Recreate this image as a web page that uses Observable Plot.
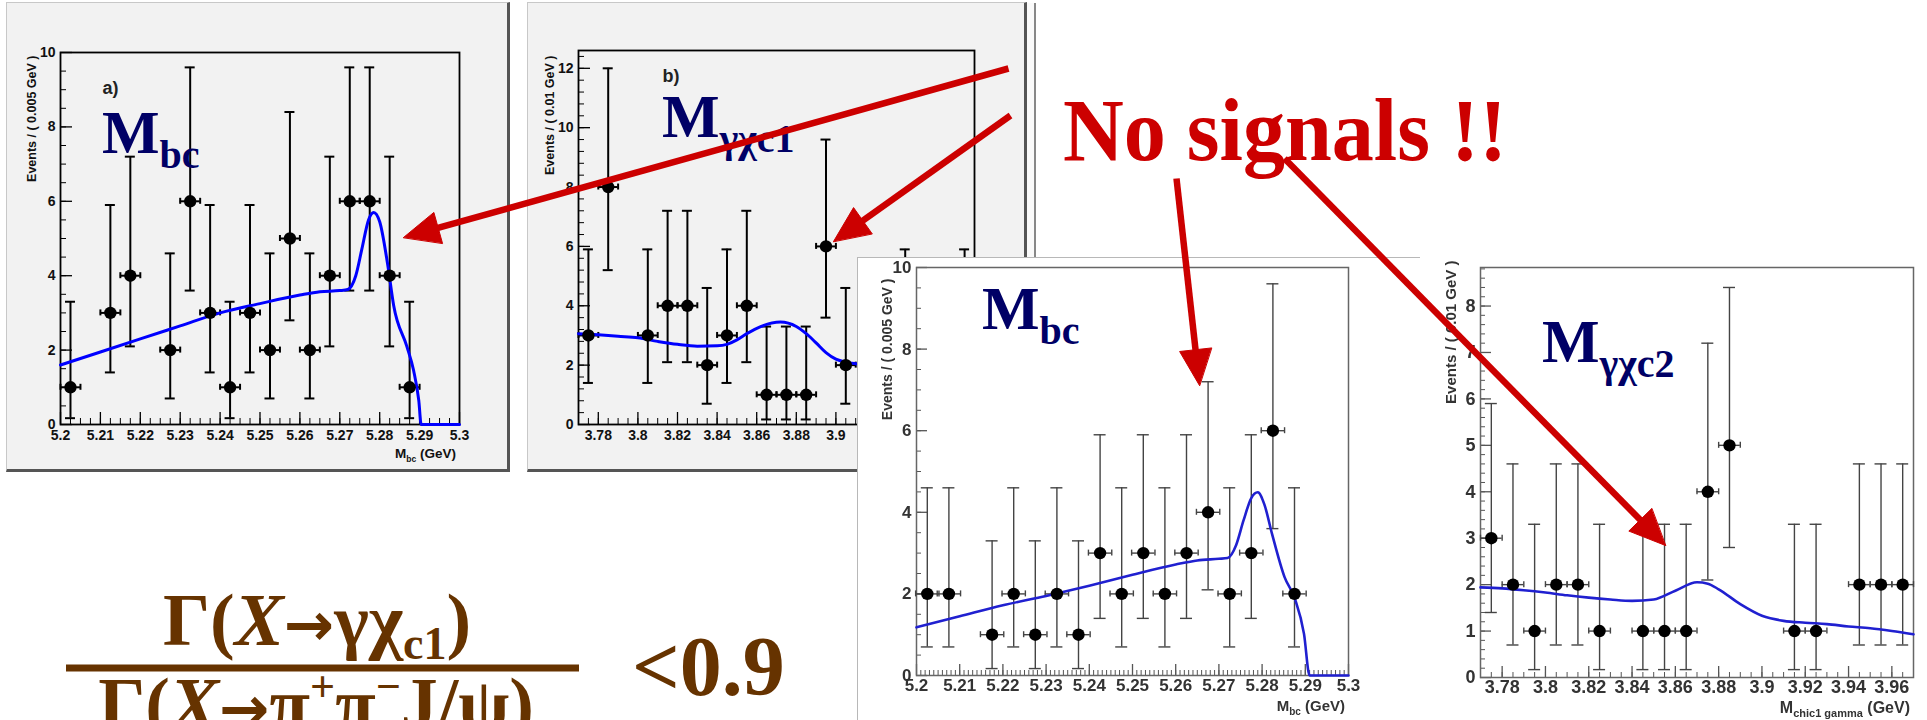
<!DOCTYPE html>
<html><head><meta charset="utf-8">
<script src="https://cdn.jsdelivr.net/npm/d3@7"></script>
<script src="https://cdn.jsdelivr.net/npm/@observablehq/plot@0.6"></script>
<style>
body{margin:0;background:#fff;}
#root{position:relative;width:1927px;height:720px;overflow:hidden;background:#fff;}
.panel{position:absolute;}
.panel svg{display:block;}
</style></head><body><div id="root"></div>
<script>
// ---------- data ----------
// panel a) : Mbc, 0.005 GeV bins
const aX = [5.2025,5.2125,5.2175,5.2275,5.2325,5.2375,5.2425,5.2475,5.2525,5.2575,5.2625,5.2675,5.2725,5.2775,5.2825,5.2875];
const aN = [1,3,4,2,6,3,1,3,2,5,2,4,6,6,4,1];
const aFitX = [5.2,5.21,5.22,5.23,5.24,5.25,5.26,5.265,5.27,5.272,5.274,5.2755,5.2772,5.2785,5.28,5.282,5.2835,5.2868,5.2885,5.2898,5.2904,5.3];
const aFitY = [1.6,1.95,2.3,2.65,3.0,3.25,3.48,3.57,3.6,3.63,4.0,4.7,5.5,5.7,5.45,4.3,3.2,2.1,1.45,0.64,0,0];
// panel b) : M(gamma chi_c1), 0.01 GeV bins
const bX = [3.775,3.785,3.805,3.815,3.825,3.835,3.845,3.855,3.865,3.875,3.885,3.895,3.905,3.935,3.965];
const bN = [3,8,3,4,4,2,3,4,1,1,1,6,2,3,3];
const bFitX = [3.77,3.78,3.79,3.8,3.81,3.82,3.83,3.84,3.845,3.85,3.855,3.862,3.872,3.88,3.885,3.89,3.895,3.9,3.905,3.91,3.93,3.95,3.97];
const bFitY = [3.06,3.02,2.97,2.92,2.8,2.7,2.64,2.65,2.7,2.85,3.06,3.3,3.45,3.3,3.06,2.75,2.42,2.2,2.1,2.05,1.97,1.92,1.88];
// panel c) : Mbc
const cX = [5.2025,5.2075,5.2175,5.2225,5.2275,5.2325,5.2375,5.2425,5.2475,5.2525,5.2575,5.2625,5.2675,5.2725,5.2775,5.2825,5.2875];
const cN = [2,2,1,2,1,2,1,3,2,3,2,3,4,2,3,6,2];
const cFitX = [5.2,5.21,5.22,5.23,5.24,5.25,5.26,5.265,5.27,5.272,5.274,5.2757,5.2775,5.279,5.2805,5.2823,5.2852,5.2876,5.2897,5.291,5.3];
const cFitY = [1.18,1.45,1.72,1.95,2.2,2.47,2.72,2.82,2.86,2.88,3.2,3.8,4.35,4.49,4.2,3.47,2.41,1.88,1.02,0,0];
// panel d) : M(gamma chi_c2)
const dX = [3.775,3.785,3.795,3.805,3.815,3.825,3.845,3.855,3.865,3.875,3.885,3.915,3.925,3.945,3.955,3.965];
const dN = [3,2,1,2,2,1,1,1,1,4,5,1,1,2,2,2];
const dFitX = [3.77,3.78,3.79,3.8,3.81,3.82,3.83,3.84,3.85,3.86,3.87,3.875,3.88,3.89,3.9,3.91,3.92,3.93,3.94,3.95,3.96,3.97];
const dFitY = [1.94,1.92,1.88,1.83,1.77,1.72,1.68,1.65,1.68,1.87,2.05,2.02,1.9,1.58,1.33,1.22,1.18,1.15,1.1,1.06,1.0,0.93];
// Poisson error bars as drawn
const errN  = [1,2,3,4,5,6,8];
const errLo = [0.17,0.7,1.4,2.1,2.8,3.6,5.2];
const errHi = [3.3,4.6,5.9,7.2,8.4,9.6,12.0];
// tick labels
const mbcTicks = [5.2,5.21,5.22,5.23,5.24,5.25,5.26,5.27,5.28,5.29,5.3];
const mTicks = [3.78,3.8,3.82,3.84,3.86,3.88,3.9,3.92,3.94,3.96];
const aYTicks = [0,2,4,6,8,10];
const bYTicks = [0,2,4,6,8,10,12];
const dYTicks = [0,1,2,3,4,5,6,7,8];
// arrows (annotation endpoints, page pixels)
const arrowX1 = [1008,1010,1176,1284];
const arrowY1 = [68,115,178,158];
const arrowX2 = [403,833,1199,1665];
const arrowY2 = [237,241,385,545];

// ---------- helpers ----------
const root = document.getElementById("root");
const SANS = "'Liberation Sans', Arial, Helvetica, sans-serif";
const SERIF = "'Liberation Serif', 'Times New Roman', serif";
function rng(a,b,s){const out=[];for(let i=0;a+i*s<=b+s*1e-6;i++)out.push(+(a+i*s).toFixed(5));return out;}
const lo = n => errLo[errN.indexOf(n)];
const hi = n => errHi[errN.indexOf(n)];
const fmt = d => String(+d.toFixed(4));

function histPanel(o){
  const t = o.theme;
  const fw = o.width - o.ml - o.mr, fh = o.height - o.mt - o.mb;
  const pxX = fw/(o.xDomain[1]-o.xDomain[0]), pxY = fh/(o.yDomain[1]-o.yDomain[0]);
  const capX = t.cap/pxX, capY = 3/pxY;
  const pts = o.xs.map((x,i)=>({x, n:o.ns[i], lo:lo(o.ns[i]), hi:hi(o.ns[i])}));
  const fit = o.fitX.map((x,i)=>({x, y:o.fitY[i]}));
  const svg = Plot.plot({
    width:o.width, height:o.height, marginLeft:o.ml, marginRight:o.mr, marginTop:o.mt, marginBottom:o.mb,
    style:{background:t.bg, fontFamily:SANS, overflow:"visible"},
    x:{domain:o.xDomain}, y:{domain:o.yDomain},
    marks:[
      Plot.axisX(o.xMinor,{tickSize:-t.minor, tickFormat:()=>"", label:null, stroke:t.tick, strokeWidth:1}),
      Plot.axisX(o.xTicks,{tickSize:-t.major, tickFormat:()=>"", label:null, stroke:t.tick, strokeWidth:1.3}),
      Plot.axisX(o.xTicks,{tickSize:0, tickPadding:t.pad, tickFormat:fmt, label:null, fontSize:t.fs, fontWeight:"bold", fill:t.text}),
      Plot.axisY(o.yMinor,{tickSize:-t.minor, tickFormat:()=>"", label:null, stroke:t.tick, strokeWidth:1}),
      Plot.axisY(o.yTicks,{tickSize:-t.major, tickFormat:()=>"", label:null, stroke:t.tick, strokeWidth:1.3}),
      Plot.axisY(o.yTicks,{tickSize:0, tickPadding:5, tickFormat:fmt, label:null, fontSize:t.fs, fontWeight:"bold", fill:t.text}),
      Plot.frame({stroke:t.frame, strokeWidth:t.frameW}),
      // vertical error bars + caps
      Plot.ruleX(pts,{x:"x", y1:"lo", y2:"hi", stroke:t.err, strokeWidth:t.errW}),
      Plot.ruleY(pts,{y:"hi", x1:d=>d.x-capX, x2:d=>d.x+capX, stroke:t.err, strokeWidth:t.errW}),
      Plot.ruleY(pts,{y:"lo", x1:d=>d.x-capX, x2:d=>d.x+capX, stroke:t.err, strokeWidth:t.errW}),
      // horizontal (bin width) bars + end ticks
      Plot.ruleY(pts,{y:"n", x1:d=>d.x-o.binHalf, x2:d=>d.x+o.binHalf, stroke:t.err, strokeWidth:t.errW}),
      Plot.ruleX(pts,{x:d=>d.x-o.binHalf, y1:d=>d.n-capY, y2:d=>d.n+capY, stroke:t.err, strokeWidth:t.errW}),
      Plot.ruleX(pts,{x:d=>d.x+o.binHalf, y1:d=>d.n-capY, y2:d=>d.n+capY, stroke:t.err, strokeWidth:t.errW}),
      Plot.line(fit,{x:"x", y:"y", stroke:t.fit, strokeWidth:t.fitW, curve:"monotone-x"}),
      Plot.dot(pts,{x:"x", y:"n", r:6.2, fill:"#000", stroke:"none"}),
      Plot.text([o.ylabel],{frameAnchor:"top-left", dx:o.ylDx, dy:o.ylDy, rotate:-90, textAnchor:"end", fontSize:t.yfs, fontWeight:"bold", fill:t.text}),
      ...(o.tag ? [Plot.text([o.tag],{frameAnchor:"top-left", dx:o.tagDx, dy:o.tagDy, lineAnchor:"bottom", textAnchor:"start", fontSize:18, fontWeight:"bold", fill:"#222"})] : [])
    ]
  });
  // x-axis title with subscript
  const xl = d3.select(svg).append("text")
    .attr("x", o.width - o.mr - 3).attr("y", o.height - o.mb + o.xlDy)
    .attr("text-anchor","end").attr("font-size", t.yfs+1).attr("font-weight","bold")
    .attr("fill", t.text).attr("font-family", SANS);
  xl.append("tspan").text("M");
  xl.append("tspan").attr("font-size", t.yfs-4).attr("dy",4).text(o.xsub);
  xl.append("tspan").attr("dy",-4).text(" (GeV)");
  return svg;
}

function place(node, css){
  const div = document.createElement("div");
  div.className = "panel";
  Object.assign(div.style, css);
  div.appendChild(node);
  root.appendChild(div);
}

const rootTheme = {bg:"#f2f2f2", tick:"#000", text:"#111", frame:"#000", frameW:1.8, err:"#000", errW:2, fit:"#0000ff", fitW:3, major:12, minor:6, fs:14, yfs:12.5, pad:6, cap:5};
const scanTheme = {bg:"#ffffff", tick:"#555", text:"#333", frame:"#666", frameW:1.5, err:"#444", errW:1.4, fit:"#2020d0", fitW:2.6, major:11, minor:5, fs:17, yfs:14, pad:3, cap:6};

// panel a
place(histPanel({xs:aX, ns:aN, fitX:aFitX, fitY:aFitY, xDomain:[5.2,5.3], yDomain:[0,10],
  width:500, height:466, ml:53, mr:48, mt:49, mb:45, binHalf:0.0025,
  xTicks:mbcTicks, xMinor:rng(5.2,5.3,0.0025), yTicks:aYTicks, yMinor:rng(0,10,0.5),
  ylabel:"Events / ( 0.005 GeV )", ylDx:-33, ylDy:3, xsub:"bc", xlDy:34,
  tag:"a)", tagDx:42, tagDy:41, theme:rootTheme}),
  {left:"6px", top:"2px", borderTop:"1px solid #c8c8c8", borderLeft:"1px solid #c8c8c8", borderRight:"3px solid #555", borderBottom:"3px solid #555", background:"#f2f2f2"});

// panel b
place(histPanel({xs:bX, ns:bN, fitX:bFitX, fitY:bFitY, xDomain:[3.77,3.97], yDomain:[0,12.6],
  width:496, height:466, ml:50, mr:50, mt:47, mb:45, binHalf:0.005,
  xTicks:mTicks, xMinor:rng(3.77,3.97,0.005), yTicks:bYTicks, yMinor:rng(0,12.4,0.4),
  ylabel:"Events / ( 0.01 GeV )", ylDx:-33, ylDy:5, xsub:"chic1 gamma", xlDy:34,
  tag:"b)", tagDx:84, tagDy:31, theme:rootTheme}),
  {left:"527px", top:"2px", borderTop:"1px solid #c8c8c8", borderLeft:"1px solid #c8c8c8", borderRight:"3px solid #555", borderBottom:"3px solid #555", background:"#f2f2f2", boxShadow:"8px 0 0 -1px #fafafa, 10px 0 0 -1px #888"});

// panel c
place(histPanel({xs:cX, ns:cN, fitX:cFitX, fitY:cFitY, xDomain:[5.2,5.3], yDomain:[0,10],
  width:562, height:462, ml:58, mr:72, mt:9, mb:45, binHalf:0.0027,
  xTicks:mbcTicks, xMinor:rng(5.2,5.3,0.001), yTicks:aYTicks, yMinor:rng(0,10,0.5),
  ylabel:"Events / ( 0.005 GeV )", ylDx:-34, ylDy:11, xsub:"bc", xlDy:36,
  theme:scanTheme}),
  {left:"857px", top:"257px", borderTop:"1px solid #b8b8b8", borderLeft:"1px solid #b8b8b8", background:"#fff", filter:"blur(0.35px)"});

// panel d
place(histPanel({xs:dX, ns:dN, fitX:dFitX, fitY:dFitY, xDomain:[3.77,3.97], yDomain:[0,8.83],
  width:507, height:475, ml:60, mr:14, mt:22, mb:43, binHalf:0.005,
  xTicks:mTicks, xMinor:rng(3.77,3.97,0.005), yTicks:dYTicks, yMinor:rng(0,8.8,0.2),
  ylabel:"Events / ( 0.01 GeV )", ylDx:-35, ylDy:-7, xsub:"chic1 gamma", xlDy:36,
  theme:Object.assign({}, scanTheme, {fs:18, yfs:15})}),
  {left:"1420px", top:"245px", background:"#fff", filter:"blur(0.35px)"});

// ---------- overlay: labels, formula, arrows ----------
const HEAD_L = 36, HEAD_W = 16;
const arrows = arrowX1.map((x1,i)=>{
  const x2 = arrowX2[i], y1 = arrowY1[i], y2 = arrowY2[i];
  const len = Math.hypot(x2-x1, y2-y1), ux = (x2-x1)/len, uy = (y2-y1)/len;
  return {x1, y1, bx:x2-ux*(HEAD_L-3), by:y2-uy*(HEAD_L-3), x2, y2, ux, uy, id:i};
});
const heads = arrows.flatMap(a=>{
  const cx = a.x2 - a.ux*HEAD_L, cy = a.y2 - a.uy*HEAD_L;
  return [
    {id:a.id, x:a.x2, y:a.y2},
    {id:a.id, x:cx - a.uy*HEAD_W, y:cy + a.ux*HEAD_W},
    {id:a.id, x:cx + a.uy*HEAD_W, y:cy - a.ux*HEAD_W}
  ];
});
const fracBar = {x1:66, x2:579, y:667.5};
const RED = "#cc0000";

const overlay = Plot.plot({
  width:1927, height:720, margin:0,
  style:{background:"transparent", overflow:"visible"},
  x:{domain:[0,1927], range:[0,1927], axis:null},
  y:{domain:[0,720], range:[0,720], axis:null},
  marks:[
    Plot.ruleY([fracBar],{y:"y", x1:"x1", x2:"x2", stroke:"#663300", strokeWidth:7}),
    Plot.link(arrows,{x1:"x1", y1:"y1", x2:"bx", y2:"by", stroke:RED, strokeWidth:6.5}),
    Plot.line(heads,{x:"x", y:"y", z:"id", fill:RED, stroke:RED, strokeWidth:1, curve:"linear-closed"})
  ]
});
const ov = d3.select(overlay);
const lab = ov.insert("g","g").attr("font-family", SERIF).attr("font-weight","bold").attr("text-anchor","start");

// big navy plot labels
const navyLabels = [
  {x:102, y:153, sub:"bc"},
  {x:662, y:137, sub:"γχc1"},
  {x:982, y:329, sub:"bc"},
  {x:1542, y:362, sub:"γχc2"}
];
navyLabels.forEach(l=>{
  const t = lab.append("text").attr("x", l.x).attr("y", l.y).attr("font-size", 61).attr("fill", "#000066").attr("text-anchor","start");
  t.append("tspan").text("M");
  t.append("tspan").attr("font-size", 40).attr("dy", 15).text(l.sub);
});

// "No signals !!"
lab.append("text").attr("x",1063).attr("y",160).attr("font-size",88).attr("fill",RED).attr("text-anchor","start")
  .attr("textLength",444).attr("lengthAdjust","spacingAndGlyphs").text("No signals !!");

// ratio formula
const BROWN = "#663300";
const ARROWFONT = "'DejaVu Sans', sans-serif";
const num = lab.append("text").attr("x",317).attr("y",645).attr("text-anchor","middle").attr("font-size",74).attr("fill",BROWN);
num.append("tspan").text("Γ(");
num.append("tspan").attr("font-style","italic").text("X");
num.append("tspan").attr("font-family",ARROWFONT).attr("font-size",60).text("→");
num.append("tspan").text("γχ");
num.append("tspan").attr("font-size",46).attr("dy",14).text("c1");
num.append("tspan").attr("dy",-14).text(")");
const den = lab.append("text").attr("x",316).attr("y",729).attr("text-anchor","middle").attr("font-size",74).attr("fill",BROWN);
den.append("tspan").text("Γ(");
den.append("tspan").attr("font-style","italic").text("X");
den.append("tspan").attr("font-family",ARROWFONT).attr("font-size",60).text("→");
den.append("tspan").text("π");
den.append("tspan").attr("font-size",44).attr("dy",-28).text("+");
den.append("tspan").attr("dy",28).text("π");
den.append("tspan").attr("font-size",44).attr("dy",-28).text("−");
den.append("tspan").attr("dy",28).text("J/ψ)");
lab.append("text").attr("x",632).attr("y",695).attr("font-size",84).attr("fill",BROWN).attr("text-anchor","start").text("<0.9");

overlay.style.position = "absolute";
overlay.style.left = "0px";
overlay.style.top = "0px";
root.appendChild(overlay);
</script>
</body></html>
